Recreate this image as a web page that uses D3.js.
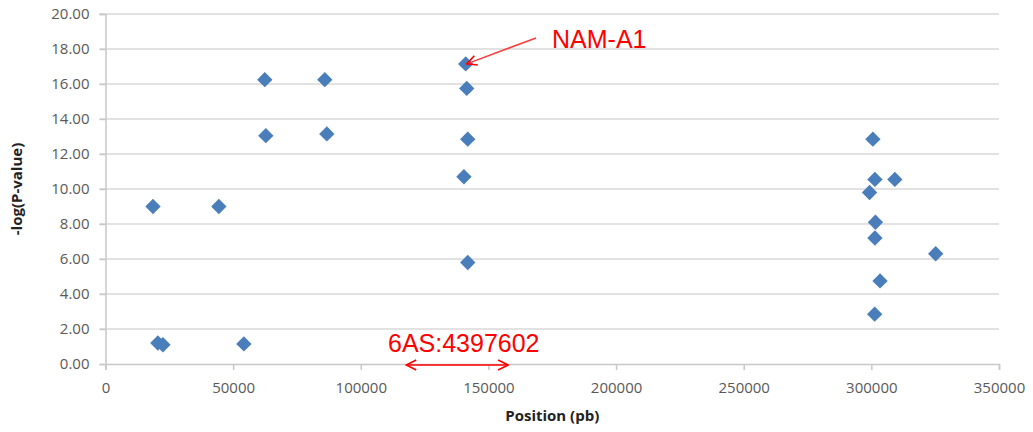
<!DOCTYPE html>
<meta charset="utf-8">
<script src="https://cdn.jsdelivr.net/npm/d3@7"></script>
<style>
body { margin: 0; background: #fff; }
text { font-family: "Open Sans", "Liberation Sans", sans-serif; }
.tick text { fill: #595959; font-size: 15px; }
.axis-title { font-weight: 700; font-size: 15px; fill: #222; }
.note { fill: #ff0000; font-family: "Liberation Sans", Arial, sans-serif; }
</style>
<body>
<script>

// marker positions (pb) and -log(P-value)
var positions = [18600, 44400, 20500, 22500, 54200, 62400, 62800, 85900, 86700,
                 141100, 141500, 141900, 140400, 141900,
                 300600, 301400, 309200, 299300, 301600, 301400, 325200, 303400, 301300];
var logp = [9.0, 9.0, 1.2, 1.1, 1.15, 16.25, 13.05, 16.25, 13.15,
            17.15, 15.75, 12.85, 10.7, 5.8,
            12.85, 10.55, 10.55, 9.8, 8.1, 7.2, 6.3, 4.75, 2.85];

var xTicks = [0, 50000, 100000, 150000, 200000, 250000, 300000, 350000];
var yTicks = [0, 2, 4, 6, 8, 10, 12, 14, 16, 18, 20];

// annotations
var namLabel = "NAM-A1";
var namPoint = [141100, 17.15];
var regionLabel = "6AS:4397602";
var regionSpan = [117800, 157700];

var width = 1033, height = 432;
var margin = {left: 105.5, right: 34, top: 14, bottom: 68};

var svg = d3.select("body").append("svg")
    .attr("width", width)
    .attr("height", height);

var x = d3.scaleLinear().domain([0, 350000]).range([margin.left, width - margin.right]);
var y = d3.scaleLinear().domain([0, 20]).range([height - margin.bottom, margin.top]);

// gridlines
svg.append("g")
    .selectAll("line")
    .data(yTicks.slice(1))
    .enter().append("line")
    .attr("x1", x(0) - 6).attr("x2", x(350000))
    .attr("y1", function(d) { return y(d); })
    .attr("y2", function(d) { return y(d); })
    .style("stroke", "#d9d9d9")
    .style("stroke-width", 1.5);

// y axis
var yAxis = svg.append("g")
    .attr("transform", "translate(" + x(0) + ",0)")
    .call(d3.axisLeft(y).tickValues(yTicks).tickFormat(d3.format(".2f")).tickSize(6).tickPadding(10));
yAxis.select(".domain").style("stroke", "#c8c8c8").style("stroke-width", 1.5);
yAxis.selectAll(".tick line").style("stroke", "#c8c8c8").style("stroke-width", 1.5);

// x axis
var xAxis = svg.append("g")
    .attr("transform", "translate(0," + y(0) + ")")
    .call(d3.axisBottom(x).tickValues(xTicks).tickFormat(d3.format("d")).tickSizeOuter(0).tickSize(6).tickPadding(12));
xAxis.select(".domain").style("stroke", "#c8c8c8").style("stroke-width", 1.5);
xAxis.selectAll(".tick line").style("stroke", "#c8c8c8").style("stroke-width", 1.5);

// titles
svg.append("text")
    .attr("class", "axis-title")
    .attr("text-anchor", "middle")
    .attr("x", (x(0) + x(350000)) / 2)
    .attr("y", 421)
    .text("Position (pb)");

svg.append("text")
    .attr("class", "axis-title")
    .attr("text-anchor", "middle")
    .attr("transform", "translate(22," + ((y(0) + y(20)) / 2) + ") rotate(-90)")
    .text("-log(P-value)");

// points
var diamond = d3.symbol().type(d3.symbolSquare).size(118);
svg.append("g")
    .selectAll("path")
    .data(d3.range(positions.length))
    .enter().append("path")
    .attr("d", diamond)
    .attr("transform", function(i) {
      return "translate(" + x(positions[i]) + "," + y(logp[i]) + ") rotate(45)";
    })
    .style("fill", "#4a7ebb");

// arrow markers
var defs = svg.append("defs");
defs.append("marker")
    .attr("id", "head")
    .attr("viewBox", "0 0 12 12")
    .attr("refX", 11).attr("refY", 6)
    .attr("markerWidth", 12).attr("markerHeight", 12)
    .attr("markerUnits", "userSpaceOnUse")
    .attr("orient", "auto-start-reverse")
    .append("path")
    .attr("d", "M1,1 L11,6 L1,11")
    .style("fill", "none")
    .style("stroke", "#ff0000")
    .style("stroke-width", 1.6);

// NAM-A1 callout
svg.append("line")
    .attr("x1", 536).attr("y1", 38)
    .attr("x2", x(namPoint[0]) + 1).attr("y2", y(namPoint[1]))
    .style("stroke", "#ff3b3b")
    .style("stroke-width", 1.6)
    .attr("marker-end", "url(#head)");

svg.append("text")
    .attr("class", "note")
    .attr("x", 552).attr("y", 48)
    .style("font-size", "25px")
    .text(namLabel);

// region arrow
svg.append("line")
    .attr("x1", x(regionSpan[0])).attr("x2", x(regionSpan[1]))
    .attr("y1", y(0) + 1).attr("y2", y(0) + 1)
    .style("stroke", "#ff0000")
    .style("stroke-width", 1.6)
    .attr("marker-start", "url(#head)")
    .attr("marker-end", "url(#head)");

svg.append("text")
    .attr("class", "note")
    .attr("x", 388).attr("y", 352)
    .style("font-size", "25px")
    .text(regionLabel);

</script>
</body>
